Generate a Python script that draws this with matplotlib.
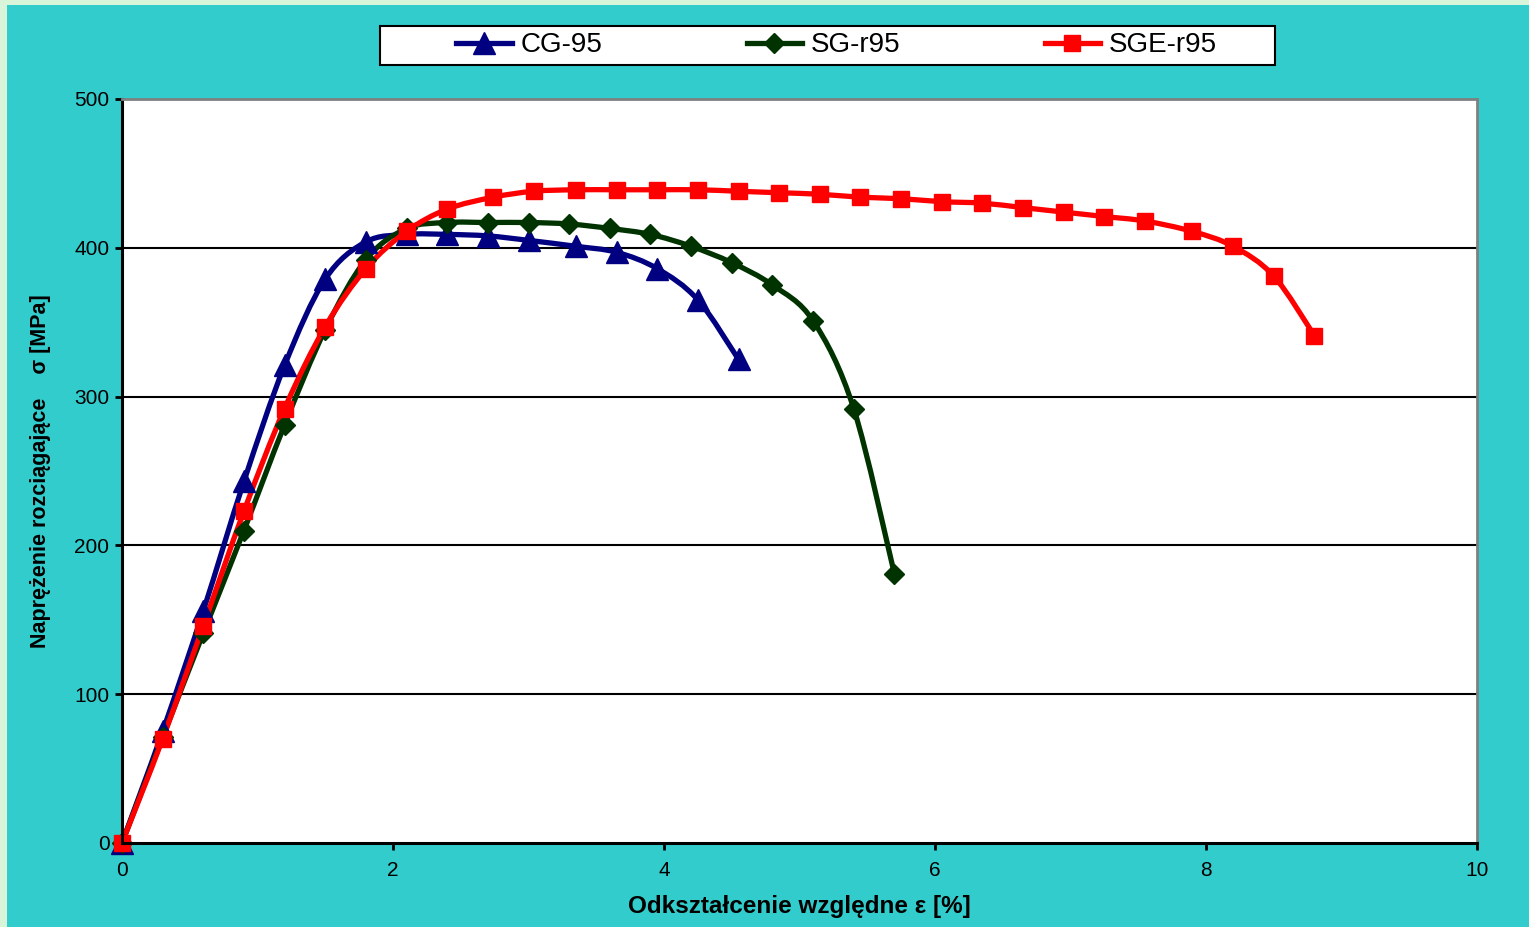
import numpy as np
import matplotlib
matplotlib.use("Agg")
import matplotlib.pyplot as plt
from matplotlib.path import Path
from matplotlib.patches import PathPatch, Rectangle
from matplotlib.lines import Line2D

plt.rcParams['font.family'] = ['Liberation Sans', 'DejaVu Sans']

# Strain [%] and tensile stress [MPa] for each specimen
cg_x = [0, 0.3, 0.6, 0.9, 1.2, 1.5, 1.8, 2.1, 2.4, 2.7, 3.0, 3.35, 3.65, 3.95, 4.25, 4.55]
cg_y = [0, 75, 156, 243, 321, 379, 404, 409, 409, 408, 405, 401, 397, 386, 365, 325]

sg_x = [0, 0.3, 0.6, 0.9, 1.2, 1.5, 1.8, 2.1, 2.4, 2.7, 3.0, 3.3, 3.6, 3.9, 4.2,
        4.5, 4.8, 5.1, 5.4, 5.7]
sg_y = [0, 71, 141, 210, 281, 345, 392, 413, 417, 417, 417, 416, 413, 409, 401,
        390, 375, 351, 292, 181]

sge_x = [0, 0.3, 0.6, 0.9, 1.2, 1.5, 1.8, 2.1, 2.4, 2.74, 3.04, 3.35, 3.65, 3.95,
         4.25, 4.55, 4.85, 5.15, 5.45, 5.75, 6.05, 6.35, 6.65, 6.95, 7.25, 7.55,
         7.9, 8.2, 8.5, 8.8]
sge_y = [0, 70, 146, 223, 292, 347, 386, 411, 426, 434, 438, 439, 439, 439,
         439, 438, 437, 436, 434, 433, 431, 430, 427, 424, 421, 418,
         411, 401, 381, 341]

series_names = ["CG-95", "SG-r95", "SGE-r95"]
x_ticks = [0, 2, 4, 6, 8, 10]
y_ticks = [0, 100, 200, 300, 400, 500]

TEAL = "#33CCCC"
BORDER = "#D9F5D9"
W, H = 1529, 927


def smooth_path(xs, ys):
    """Bezier path through the points (Catmull-Rom style smoothing)."""
    p = np.column_stack([xs, ys]).astype(float)
    n = len(p)
    verts = [p[0]]
    codes = [Path.MOVETO]
    for i in range(n - 1):
        p0 = p[i - 1] if i > 0 else p[i]
        p1 = p[i]
        p2 = p[i + 1]
        p3 = p[i + 2] if i + 2 < n else p[i + 1]
        c1 = p1 + (p2 - p0) / 6.0
        c2 = p2 - (p3 - p1) / 6.0
        verts += [c1, c2, p2]
        codes += [Path.CURVE4] * 3
    return Path(verts, codes)


fig = plt.figure(figsize=(W / 100, H / 100), dpi=100)
fig.patch.set_facecolor(BORDER)
fig.patches.append(Rectangle((7 / W, 0), 1, 1 - 5 / H, transform=fig.transFigure,
                             facecolor=TEAL, edgecolor="none", zorder=-10))

ax = fig.add_axes([122 / W, 1 - 843 / H, (1477 - 122) / W, (843 - 99) / H])
ax.set_zorder(1)
ax.set_facecolor("white")
ax.set_xlim(0, 10)
ax.set_ylim(0, 500)

styles = [
    (cg_x, cg_y, "#000080", "^", 16),
    (sg_x, sg_y, "#003300", "D", 10.5),
    (sge_x, sge_y, "#FF0000", "s", 11),
]

handles = []
for (xs, ys, col, mk, ms), name in zip(styles, series_names):
    patch = PathPatch(smooth_path(xs, ys), facecolor="none", edgecolor=col,
                      lw=3.8, transform=ax.transData, zorder=3, capstyle="round",
                      joinstyle="round")
    ax.add_patch(patch)
    ax.plot(xs, ys, linestyle="none", marker=mk, markersize=ms, color=col,
            markeredgecolor=col, zorder=4, clip_on=False)
    handles.append(Line2D([], [], color=col, lw=3.8, marker=mk, markersize=ms,
                          markeredgecolor=col))

# grid and frame
for v in y_ticks[1:-1]:
    ax.axhline(v, color="black", lw=1.5, zorder=1)
ax.spines["left"].set_color("black")
ax.spines["bottom"].set_color("black")
ax.spines["left"].set_linewidth(2.2)
ax.spines["bottom"].set_linewidth(2.2)
ax.spines["top"].set_color("#808080")
ax.spines["right"].set_color("#808080")
ax.spines["top"].set_linewidth(2)
ax.spines["right"].set_linewidth(2)
for s in ax.spines.values():
    s.set_zorder(5)

ax.set_xticks(x_ticks)
ax.set_yticks(y_ticks)
ax.tick_params(axis="both", direction="out", length=5, width=2, labelsize=15,
               colors="black")
ax.tick_params(axis="y", pad=4)
ax.tick_params(axis="x", pad=8)

ax.set_xlabel("Odkształcenie względne ε [%]", fontsize=17.5, fontweight="bold",
              labelpad=11)
ax.set_ylabel("Naprężenie rozciągające    σ [MPa]", fontsize=15.5, fontweight="bold",
              labelpad=17)

# legend box
box_x0, box_y0, box_x1, box_y1 = 380, 26, 1275, 65
fig.patches.append(Rectangle((box_x0 / W, 1 - box_y1 / H), (box_x1 - box_x0) / W,
                             (box_y1 - box_y0) / H, transform=fig.transFigure,
                             facecolor="white", edgecolor="black", lw=1.5, zorder=2))
leg = fig.legend(handles, series_names, loc="center",
                 bbox_to_anchor=((box_x0 + box_x1) / 2 / W + 9 / W,
                                 1 - (box_y0 + box_y1) / 2 / H),
                 ncol=3, fontsize=20, frameon=False,
                 handlelength=2.0, handletextpad=0.3, columnspacing=5.2,
                 borderpad=0.0)
leg.set_zorder(3)

fig.savefig("out.png", dpi=100, facecolor=fig.get_facecolor())
